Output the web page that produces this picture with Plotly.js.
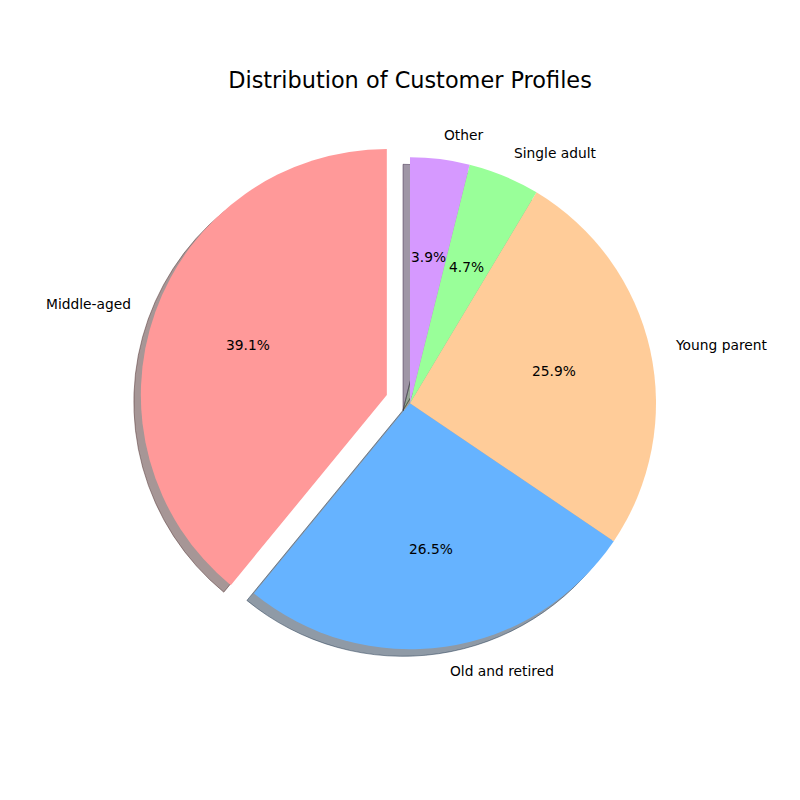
<!DOCTYPE html>
<html>
<head>
<meta charset="utf-8">
<script src="https://cdn.plot.ly/plotly-3.0.1.min.js"></script>
<style>html,body{margin:0;padding:0;background:#fff;}#chart{width:800px;height:800px;}</style>
</head>
<body>
<div id="chart"></div>
<script>
const labels = ['Middle-aged', 'Old and retired', 'Young parent', 'Single adult', 'Other'];
const values = [39.1, 26.5, 25.9, 4.7, 3.9];
const colors = ['#ff9999', '#66b3ff', '#ffcc99', '#99ff99', '#d699ff'];
const explode = [0.1, 0, 0, 0, 0];

// geometry (paper fractions, square 800x800 canvas with zero margins)
const cx = 410 / 800, cy = (800 - 403.3) / 800, r = 246 / 800;
const maxPull = Math.max(...explode);
const half = r * (1 + maxPull);
const sdx = -7 / 800, sdy = -7 / 800;

const total = values.reduce((a, b) => a + b, 0);
// Plotly's counterclockwise mode puts the first slice clockwise of 'rotation';
// shift so the first slice starts at 12 o'clock and runs counterclockwise.
const rot = -360 * values[0] / total;

function hexToRgb(h) {
  const n = parseInt(h.slice(1), 16);
  return [(n >> 16) & 255, (n >> 8) & 255, n & 255];
}
const shadowFill = colors.map(c => {
  const [R, G, B] = hexToRgb(c);
  return `rgba(${Math.round(R * 0.3)},${Math.round(G * 0.3)},${Math.round(B * 0.3)},0.5)`;
});

const shadow = {
  type: 'pie', values: values, labels: labels, sort: false,
  direction: 'counterclockwise', rotation: rot, pull: explode,
  marker: { colors: shadowFill, line: { color: shadowFill, width: 1 } },
  textinfo: 'none', hoverinfo: 'skip', showlegend: false,
  domain: { x: [cx - half + sdx, cx + half + sdx], y: [cy - half + sdy, cy + half + sdy] }
};
const pie = {
  type: 'pie', values: values, labels: labels, sort: false,
  direction: 'counterclockwise', rotation: rot, pull: explode,
  marker: { colors: colors, line: { width: 0 } },
  textinfo: 'none', showlegend: false,
  domain: { x: [cx - half, cx + half], y: [cy - half, cy + half] }
};

const annotations = [];
let cum = 0;
values.forEach((v, i) => {
  const t1 = 90 + 360 * cum / total;
  cum += v;
  const t2 = 90 + 360 * cum / total;
  const mid = (t1 + t2) / 2 * Math.PI / 180;
  const c = Math.cos(mid), s = Math.sin(mid);
  const ox = cx + explode[i] * r * c, oy = cy + explode[i] * r * s;
  annotations.push({
    xref: 'paper', yref: 'paper', x: ox + 1.1 * r * c, y: oy + 1.1 * r * s,
    text: labels[i], showarrow: false, xanchor: c > 0 ? 'left' : 'right', yanchor: 'middle',
    borderpad: 0,
    font: { family: 'DejaVu Sans', size: 13.8, color: '#000' }
  });
  annotations.push({
    xref: 'paper', yref: 'paper', x: ox + 0.6 * r * c, y: oy + 0.6 * r * s,
    text: (v / total * 100).toFixed(1) + '%', showarrow: false, xanchor: 'center', yanchor: 'middle',
    borderpad: 0,
    font: { family: 'DejaVu Sans', size: 13.8, color: '#000' }
  });
});

const layout = {
  width: 800, height: 800,
  margin: { l: 0, r: 0, t: 0, b: 0 },
  paper_bgcolor: '#ffffff', plot_bgcolor: '#ffffff',
  showlegend: false,
  title: { text: 'Distribution of Customer Profiles', x: 0.5125, xanchor: 'center', y: 0.9, yanchor: 'middle',
           xref: 'paper', yref: 'paper',
           font: { family: 'DejaVu Sans', size: 22.4, color: '#000' } },
  annotations: annotations
};
Plotly.newPlot('chart', [shadow, pie], layout, { displayModeBar: false, staticPlot: true });
</script>
</body>
</html>
